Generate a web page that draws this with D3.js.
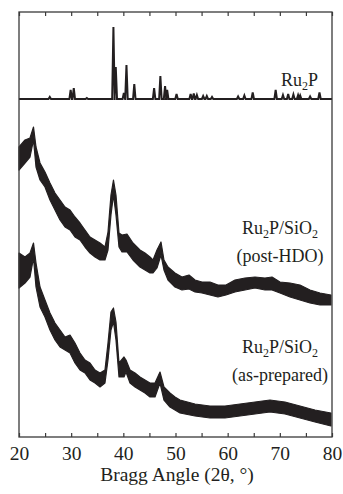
<!DOCTYPE html>
<html>
<head>
<meta charset="utf-8">
<script src="https://cdn.jsdelivr.net/npm/d3@7"></script>
<style>
  body { margin: 0; background: #fff; }
  text { font-family: "Liberation Serif", "Nimbus Roman", "Nimbus Roman No9 L", FreeSerif, "Times New Roman", Times, "DejaVu Serif", serif; fill: #231f20; }
</style>
</head>
<body>
<div id="chart"></div>
<script>
// tick labels on the 2-theta axis
const xTicks = [20, 25, 30, 35, 40, 45, 50, 55, 60, 65, 70, 75, 80];

// Ru2P reference pattern: baseline and peaks (2theta, intensity, arbitrary units)
const ru2pBase = 338;
const ru2pPeaks = [
    [25.9, 340], [29.9, 347], [30.5, 349], [33.0, 339], [38.1, 410], [38.55, 370],
    [40.1, 344], [40.6, 372], [42.1, 353], [45.9, 349], [47.1, 361], [48.0, 351],
    [48.4, 347], [50.2, 343], [52.9, 343], [53.5, 343.5], [54.1, 342], [55.3, 341],
    [56.0, 341], [57.0, 340], [62.0, 340.5], [63.2, 341.5], [64.8, 344.5], [69.2, 347],
    [70.6, 342], [71.6, 343], [72.6, 342.5], [73.5, 342], [73.9, 341.5], [75.8, 340.5],
    [77.6, 344.5]
];

// Ru2P/SiO2 post-HDO: [2theta, upper edge, lower edge] of the noisy trace
const postHDO = [
    [20.0, 290, 267], [21.15, 297, 274], [22.11, 299, 280], [22.78, 310, 297],
    [23.26, 290, 270], [24.03, 274, 257], [24.98, 265, 250], [25.94, 254, 237],
    [26.9, 244, 227], [27.86, 237, 217], [28.82, 230, 210], [29.78, 227, 207],
    [30.73, 220, 200], [31.69, 214, 197], [32.65, 207, 190], [33.61, 200, 184],
    [34.57, 197, 180], [35.53, 194, 177], [36.48, 190, 177], [37.06, 205, 187],
    [37.63, 242, 222], [38.11, 257, 242], [38.59, 242, 222], [39.17, 204, 190],
    [39.74, 202, 185], [40.7, 203, 185], [41.85, 194, 177], [43.19, 187, 170],
    [44.15, 184, 167], [45.11, 180, 164], [45.69, 177, 164], [46.45, 187, 169],
    [47.22, 195, 182], [47.79, 177, 167], [48.56, 170, 157], [49.9, 164, 150],
    [51.24, 160, 147], [52.59, 162, 148], [53.74, 157, 145], [55.08, 155, 144],
    [56.61, 155, 142], [58.14, 152, 140], [59.68, 152, 142], [61.4, 157, 145],
    [63.32, 159, 147], [65.24, 160, 149], [67.15, 159, 147], [68.5, 160, 147],
    [70.03, 155, 144], [71.95, 154, 140], [73.86, 152, 137], [75.78, 147, 134],
    [77.7, 144, 132], [79.8, 142, 132]
];

// Ru2P/SiO2 as-prepared: [2theta, upper edge, lower edge]
const asPrepared = [
    [20.0, 184, 149], [21.15, 180, 154], [22.11, 184, 160], [22.78, 194, 179],
    [23.26, 174, 150], [24.03, 150, 130], [24.98, 137, 120], [25.94, 124, 107],
    [26.9, 114, 97], [27.86, 107, 90], [28.82, 100, 87], [29.78, 102, 84],
    [30.73, 94, 74], [31.69, 84, 67], [32.65, 77, 64], [33.61, 74, 57],
    [34.57, 67, 54], [35.53, 64, 50], [36.48, 67, 54], [37.06, 94, 77],
    [37.63, 125, 107], [38.11, 129, 115], [38.59, 115, 97], [39.17, 74, 60],
    [40.13, 80, 60], [40.51, 77, 65], [41.28, 67, 54], [42.24, 64, 50],
    [43.19, 60, 47], [44.15, 57, 44], [45.11, 54, 40], [46.07, 54, 40],
    [47.03, 65, 54], [47.79, 50, 37], [48.94, 44, 30], [49.9, 40, 27],
    [50.86, 37, 24], [53.74, 33, 21], [56.61, 31, 19], [59.49, 31, 19],
    [62.36, 33, 21], [65.24, 35, 23], [68.11, 37, 25], [70.99, 35, 23],
    [73.86, 31, 19], [76.74, 27, 15], [79.8, 24, 11]
];

const W = 343, H = 494;
const margin = { left: 19, right: 11, top: 12, bottom: 57 };
const ink = '#231f20';

const svg = d3.select('#chart')
    .append('svg')
    .attr('width', W)
    .attr('height', H);

const x = d3.scaleLinear()
    .domain([20, 80])
    .range([margin.left, W - margin.right]);
const y = d3.scaleLinear()
    .domain([0, H - margin.top - margin.bottom])
    .range([H - margin.bottom, margin.top]);

const line = d3.line()
    .x(d => x(d[0]))
    .y(d => y(d[1]));

const band = d3.area()
    .x(d => x(d[0]))
    .y0(d => y(d[2]))
    .y1(d => y(d[1]));

// stick-like reference pattern
const halfWidth = 0.24;
const ru2pPts = [[20, ru2pBase]];
ru2pPeaks.forEach(p => {
    ru2pPts.push([p[0] - halfWidth, ru2pBase], [p[0], p[1]], [p[0] + halfWidth, ru2pBase]);
});
ru2pPts.push([80, ru2pBase]);

const plot = svg.append('g');

[postHDO, asPrepared].forEach(series => {
    plot.append('path')
        .attr('d', band(series))
        .style('fill', ink)
        .style('stroke', ink)
        .style('stroke-width', 1.2)
        .style('stroke-linejoin', 'round');
});

plot.append('path')
    .attr('d', line(ru2pPts))
    .style('fill', 'none')
    .style('stroke', ink)
    .style('stroke-width', 2)
    .style('stroke-linejoin', 'miter');

// frame
svg.append('rect')
    .attr('x', margin.left)
    .attr('y', margin.top)
    .attr('width', W - margin.left - margin.right)
    .attr('height', H - margin.top - margin.bottom)
    .style('fill', 'none')
    .style('stroke', '#3a3a3a')
    .style('stroke-width', 1.3);

const bottomAxis = svg.append('g')
    .attr('transform', `translate(0,${H - margin.bottom})`)
    .call(d3.axisBottom(x)
        .tickValues(xTicks)
        .tickSize(-4)
        .tickPadding(9)
        .tickFormat(d => d % 10 === 0 ? d : ''));
const topAxis = svg.append('g')
    .attr('transform', `translate(0,${margin.top})`)
    .call(d3.axisTop(x)
        .tickValues(xTicks)
        .tickSize(-4)
        .tickFormat(''));

[bottomAxis, topAxis].forEach(g => {
    g.attr('font-family', null);
    g.select('.domain').remove();
    g.selectAll('line').style('stroke', '#3a3a3a').style('stroke-width', 1.2);
});
bottomAxis.selectAll('text')
    .style('font-size', '19.5px')
    .style('fill', ink);

svg.append('text')
    .attr('x', 177)
    .attr('y', 481)
    .attr('text-anchor', 'middle')
    .style('font-size', '19.5px')
    .text('Bragg Angle (2θ, °)');

// labels with subscripts
function label(px, py, anchor, parts) {
    const t = svg.append('text')
        .attr('x', px)
        .attr('y', py)
        .attr('text-anchor', anchor)
        .style('font-size', '18px');
    let shifted = false;
    parts.forEach(p => {
        const sub = p[1];
        const dy = sub && !shifted ? 4 : (!sub && shifted ? -4 : 0);
        shifted = sub;
        t.append('tspan')
            .attr('dy', dy)
            .style('font-size', sub ? '12px' : '18px')
            .text(p[0]);
    });
}

label(318, 86, 'end', [['Ru', false], ['2', true], ['P', false]]);
label(280, 234, 'middle', [['Ru', false], ['2', true], ['P/SiO', false], ['2', true]]);
label(280, 262, 'middle', [['(post-HDO)', false]]);
label(280, 353, 'middle', [['Ru', false], ['2', true], ['P/SiO', false], ['2', true]]);
label(280, 381, 'middle', [['(as-prepared)', false]]);
</script>
</body>
</html>
